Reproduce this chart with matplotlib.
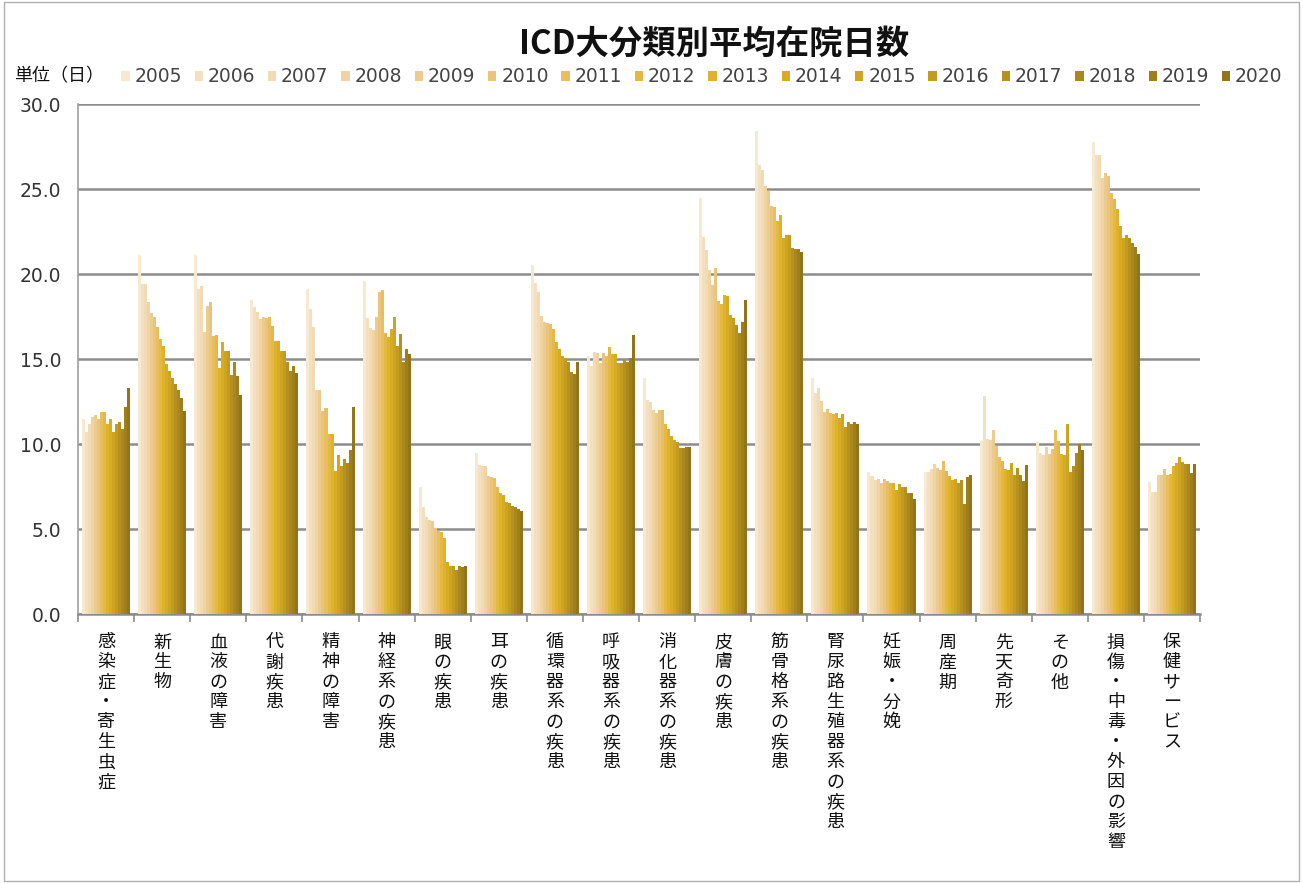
import matplotlib
matplotlib.use("Agg")
import matplotlib.pyplot as plt
from matplotlib.patches import Patch, Rectangle
import numpy as np

plt.rcParams['font.family'] = ['Noto Sans CJK JP', 'DejaVu Sans']

years = [str(y) for y in range(2005, 2021)]
categories = ["感染症・寄生虫症", "新生物", "血液の障害", "代謝疾患", "精神の障害",
              "神経系の疾患", "眼の疾患", "耳の疾患", "循環器系の疾患", "呼吸器系の疾患",
              "消化器系の疾患", "皮膚の疾患", "筋骨格系の疾患", "腎尿路生殖器系の疾患",
              "妊娠・分娩", "周産期", "先天奇形", "その他", "損傷・中毒・外因の影響",
              "保健サービス"]

# average stay (days), one list per category, 2005..2020
infection = [11.5, 10.7, 11.2, 11.6, 11.7, 11.5, 11.9, 11.9, 11.2, 11.5, 10.7, 11.2, 11.3, 10.9, 12.2, 13.3]
neoplasm = [21.1, 19.4, 19.4, 18.35, 17.7, 17.5, 16.9, 16.2, 15.75, 14.7, 14.3, 13.9, 13.55, 13.15, 12.7, 11.95]
blood = [21.1, 19.1, 19.3, 16.6, 18.1, 18.35, 16.35, 16.4, 14.45, 16.0, 15.45, 15.45, 14.05, 14.8, 14.0, 12.9]
metabolic = [18.45, 18.05, 17.75, 17.35, 17.5, 17.4, 17.5, 16.95, 16.05, 16.05, 15.5, 15.45, 14.8, 14.3, 14.6, 14.15]
mental = [19.1, 17.95, 16.9, 13.2, 13.15, 11.95, 12.1, 10.6, 10.6, 8.4, 9.35, 8.7, 9.1, 8.9, 9.65, 12.2]
nervous = [19.6, 17.4, 16.85, 16.7, 17.5, 18.95, 19.05, 16.55, 16.3, 16.75, 17.45, 15.75, 16.45, 14.8, 15.6, 15.3]
eye = [7.45, 6.3, 5.7, 5.55, 5.45, 5.05, 4.9, 4.8, 4.45, 3.05, 2.85, 2.8, 2.6, 2.8, 2.75, 2.8]
ear = [9.5, 8.75, 8.7, 8.7, 8.1, 8.05, 8.0, 7.5, 7.1, 7.0, 6.6, 6.55, 6.35, 6.3, 6.2, 6.05]
circulatory = [20.55, 19.5, 18.95, 17.55, 17.2, 17.1, 17.05, 16.75, 16.0, 15.6, 15.2, 15.05, 14.8, 14.25, 14.1, 14.8]
respiratory = [15.15, 14.6, 15.4, 15.35, 14.75, 15.35, 15.2, 15.7, 15.3, 15.3, 14.75, 14.75, 15.0, 14.8, 15.05, 16.4]
digestive = [13.9, 12.6, 12.5, 12.0, 11.8, 12.0, 12.0, 11.2, 10.9, 10.5, 10.25, 10.1, 9.75, 9.75, 9.8, 9.8]
skin = [24.5, 22.2, 21.4, 20.25, 19.35, 20.35, 18.4, 18.25, 18.75, 18.7, 17.6, 17.4, 17.0, 16.55, 17.2, 18.5]
musculo = [28.4, 26.4, 26.1, 25.2, 24.9, 24.0, 23.95, 23.1, 23.5, 22.1, 22.3, 22.3, 21.55, 21.5, 21.5, 21.3]
genito = [13.9, 13.0, 13.3, 12.55, 11.9, 12.05, 11.85, 11.75, 11.8, 11.55, 11.75, 11.0, 11.3, 11.2, 11.3, 11.2]
pregnancy = [8.35, 8.1, 7.9, 7.95, 7.7, 7.95, 7.8, 7.7, 7.7, 7.3, 7.65, 7.45, 7.5, 7.1, 7.1, 6.75]
perinatal = [8.35, 8.35, 8.55, 8.8, 8.6, 8.45, 9.0, 8.4, 8.1, 7.9, 7.95, 7.7, 7.9, 6.45, 8.05, 8.2]
congenital = [10.2, 12.8, 10.3, 10.25, 10.8, 9.9, 9.25, 9.0, 8.55, 8.45, 8.9, 8.2, 8.6, 8.2, 7.8, 8.75]
other = [10.2, 9.45, 9.35, 9.8, 9.4, 9.7, 10.8, 10.2, 9.4, 9.35, 11.2, 8.35, 8.7, 9.45, 10.0, 9.65]
injury = [27.75, 27.0, 27.0, 25.65, 25.95, 25.75, 24.75, 24.4, 23.8, 22.85, 22.1, 22.3, 22.1, 21.85, 21.6, 21.2]
health = [7.75, 7.2, 7.2, 8.15, 8.15, 8.55, 8.15, 8.25, 8.7, 8.9, 9.25, 8.95, 8.8, 8.85, 8.3, 8.8]

series = [infection, neoplasm, blood, metabolic, mental, nervous, eye, ear,
          circulatory, respiratory, digestive, skin, musculo, genito,
          pregnancy, perinatal, congenital, other, injury, health]

colors = ["#F7E8D0", "#F4E0C0", "#F2DAB2", "#EFD3A2", "#ECCB8E", "#EAC47C",
          "#E8BE5F", "#E5B844", "#E0B22A", "#D8AC22", "#CEA422", "#C39B20",
          "#B7911F", "#AB881E", "#9F7F1C", "#937419"]

data = np.array(series)  # shape (20, 16)

fig = plt.figure(figsize=(13.03, 8.83), dpi=100)
ax = fig.add_axes([0.0599, 0.3046, 0.8611, 0.5776])

x = np.arange(len(categories))
w = 0.0535
for j, yr in enumerate(years):
    ax.bar(x + (j - 7.5) * w, data[:, j], width=w, color=colors[j], zorder=3, linewidth=0)

ax.set_xlim(-0.5, len(categories) - 0.5)
ax.set_ylim(0, 30)
ax.set_yticks(np.arange(0, 31, 5))
ax.set_yticklabels([f"{v:.1f}" for v in np.arange(0, 31, 5)], fontsize=13.5,
                   color="#333333", family="DejaVu Sans")
ax.yaxis.grid(True, color="#8c8c8c", linewidth=1.8, zorder=0)
ax.tick_params(axis='y', length=0, pad=12)

ax.set_xticks(x)
ax.set_xticklabels(["\n".join(c) for c in categories], fontsize=13, color="#111111",
                   linespacing=1.14, va='top')
ax.tick_params(axis='x', which='major', length=0, pad=14)
ax.set_xticks(np.arange(-0.5, len(categories)), minor=True)
ax.tick_params(axis='x', which='minor', length=6, width=1.2, color="#8c8c8c", direction='out')

for side in ["top", "right"]:
    ax.spines[side].set_visible(False)
ax.spines["left"].set_color("#a0a0a0")
ax.spines["left"].set_linewidth(1.2)
ax.spines["bottom"].set_color("#8c8c8c")
ax.spines["bottom"].set_linewidth(1.8)

fig.text(0.548, 0.950, "ICD大分類別平均在院日数", ha='center', va='center',
         fontsize=24, fontweight='bold', color="#111111")
fig.text(0.011, 0.914, "単位（日）", ha='left', va='center', fontsize=13, color="#111111")

handles = [Patch(facecolor=c, edgecolor='none') for c in colors]
leg = fig.legend(handles, years, loc='center left', bbox_to_anchor=(0.093, 0.913), ncol=16,
                 frameon=False, handlelength=0.45, handleheight=0.45,
                 handletextpad=0.25, columnspacing=0.68, borderaxespad=0, borderpad=0,
                 prop={'family': 'DejaVu Sans', 'size': 13.5})
for t in leg.get_texts():
    t.set_color("#444444")

fig.patches.append(Rectangle((0.003, 0.002), 0.994, 0.996, transform=fig.transFigure,
                             fill=False, edgecolor="#b0b0b0", linewidth=1))

fig.savefig("out.png", dpi=100)
